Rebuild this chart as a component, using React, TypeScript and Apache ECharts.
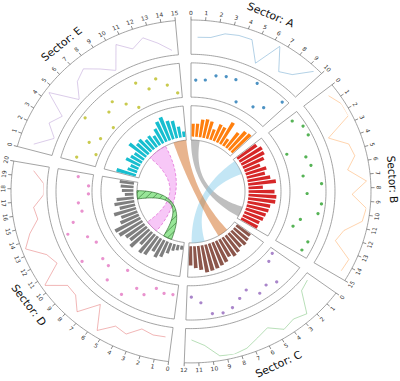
import React, { useEffect, useRef } from "react";
import * as echarts from "echarts";

// ---------- data ----------
const SECTORS = ["A", "B", "C", "D", "E"];
const SECTOR_SIZES = [10, 15, 12, 20, 15];
const SPACE_DEG = 5;

// values used by the line track and the scatter track (one per unit, x = i + 0.5)
const VALUES_A = [50, 53, 74, 80, 80, 6, 100, 20, 40, 98];
const VALUES_B = [79, 100, 100, 3, 62, 71, 37, 98, 47, 99, 92, 37, 20, 89, 84];
const VALUES_C = [5, 15, 88, 73, 85, 51, 69, 91, 100, 95, 51, 29];
const VALUES_D = [25, 27, 17, 54, 44, 90, 6, 78, 38, 36, 100, 21, 39, 99, 68, 29, 37, 0, 0, 39];
const VALUES_E = [60, 0, 40, 12, 99, 0, 50, 70, 34, 0, 83, 45, 72, 40, 6];

// bar track values (evenly spaced bars)
const BARS_A = [47, 48, 65, 69, 65, 40, 65, 61, 90, 30, 69, 88, 92];
const BARS_B = [83, 93, 90, 80, 58, 75, 65, 80, 97, 50, 90, 97, 95, 80, 78, 73, 70, 63, 65];
const BARS_C = [60, 65, 70, 65, 75, 80, 72, 85, 90, 95, 98, 100, 88, 80, 70];
const BARS_D = [15, 20, 25, 40, 60, 70, 55, 80, 85, 60, 90, 75, 80, 95, 100, 70, 60, 80, 55, 70, 60, 30, 40, 45, 50];
const BARS_E = [70, 35, 30, 55, 45, 40, 75, 55, 60, 45, 50, 40, 60, 80, 90, 70, 65, 40, 20];

const LINE_COLORS = ["#1f77b4", "#ff7f0e", "#2ca02c", "#d62728", "#9467bd"];
const SCATTER_COLORS = ["#1f77b4", "#2ca02c", "#9467bd", "#e377c2", "#bcbd22"];
const BAR_COLORS = ["#ff7f0e", "#d62728", "#8c564b", "#7f7f7f", "#17becf"];

// links: [sector1, start1, end1, sector2, start2, end2]
const LINK_GRAY = [0, 0, 2, 1, 12, 14.5];
const LINK_SKY = [1, 0.5, 4, 2, 8.4, 11.4];
const LINK_BROWN = [4, 12, 15, 2, 2.5, 5];
const LINK_VIOLET = [4, 5.5, 10, 3, 7, 10];
const LINK_GREEN = [3, 16, 18, 3, 3, 5];

// ---------- layout ----------
const CX = 191;
const CY = 201;
const R = 180;
const SQUASH = 381 / 400;

const ALL_VALUES = [VALUES_A, VALUES_B, VALUES_C, VALUES_D, VALUES_E];
const ALL_BARS = [BARS_A, BARS_B, BARS_C, BARS_D, BARS_E];
const TOTAL = SECTOR_SIZES.reduce((a, b) => a + b, 0);
const UNIT = (360 - SPACE_DEG * SECTOR_SIZES.length) / TOTAL;
const STARTS: number[] = [];
{
  let acc = 0;
  for (const s of SECTOR_SIZES) {
    STARTS.push(acc);
    acc += s * UNIT + SPACE_DEG;
  }
}
const ang = (si: number, x: number) => STARTS[si] + x * UNIT;

const textRot = (deg: number) => {
  const d = ((deg % 360) + 360) % 360;
  let r = -d;
  if (d >= 90 && d < 270) r += 180;
  return (r * Math.PI) / 180;
};

function hatchSegments(poly: number[][], spacing: number) {
  const n = [Math.SQRT1_2, Math.SQRT1_2];
  const d = [Math.SQRT1_2, -Math.SQRT1_2];
  const ss = poly.map((p) => p[0] * n[0] + p[1] * n[1]);
  const smin = Math.min(...ss);
  const smax = Math.max(...ss);
  const segs: number[][] = [];
  for (let s = Math.ceil(smin / spacing) * spacing; s <= smax; s += spacing) {
    const hits: { x: number; y: number; u: number }[] = [];
    for (let i = 0; i < poly.length; i++) {
      const j = (i + 1) % poly.length;
      const sp = ss[i];
      const sq = ss[j];
      if ((sp <= s && sq > s) || (sq <= s && sp > s)) {
        const t = (s - sp) / (sq - sp);
        const x = poly[i][0] + t * (poly[j][0] - poly[i][0]);
        const y = poly[i][1] + t * (poly[j][1] - poly[i][1]);
        hits.push({ x, y, u: x * d[0] + y * d[1] });
      }
    }
    hits.sort((a, b) => a.u - b.u);
    for (let k = 0; k + 1 < hits.length; k += 2) {
      segs.push([hits[k].x, hits[k].y, hits[k + 1].x, hits[k + 1].y]);
    }
  }
  return segs;
}

function buildOption() {
  const polars = [
    [0, R],
    [0.82 * R, 0.98 * R],
    [0.57 * R, 0.73 * R],
    [0.32 * R, 0.48 * R],
  ];
  const polar = polars.map((rr) => ({ center: [CX, CY], radius: rr }));
  const angleAxis = polars.map((_, i) => ({
    polarIndex: i,
    type: "value",
    min: 0,
    max: 360,
    startAngle: 90,
    clockwise: true,
    show: false,
  }));
  const radiusAxis = polars.map((_, i) => ({
    polarIndex: i,
    type: "value",
    min: 0,
    max: 100,
    show: false,
  }));

  const series: any[] = [];

  // track boxes
  const TRACKS = [
    [80, 100],
    [55, 75],
    [30, 50],
  ];
  const boxData: number[][] = [];
  SECTOR_SIZES.forEach((size, si) => {
    TRACKS.forEach((t) => boxData.push([t[1], ang(si, 0), t[0], ang(si, size)]));
  });
  series.push({
    type: "custom",
    coordinateSystem: "polar",
    polarIndex: 0,
    silent: true,
    z: 1,
    data: boxData,
    renderItem: (params: any, api: any) => {
      const r1 = api.value(0);
      const a0 = api.value(1);
      const r0 = api.value(2);
      const a1 = api.value(3);
      const N = 60;
      const pts: number[][] = [];
      for (let k = 0; k <= N; k++) pts.push(api.coord([r1, a0 + ((a1 - a0) * k) / N]).slice(0, 2));
      for (let k = N; k >= 0; k--) pts.push(api.coord([r0, a0 + ((a1 - a0) * k) / N]).slice(0, 2));
      return {
        type: "polygon",
        shape: { points: pts },
        style: { fill: "none", stroke: "#8a8a8a", lineWidth: 0.8 },
      };
    },
  });

  // ticks
  const tickData: number[][] = [];
  SECTOR_SIZES.forEach((size, si) => {
    for (let x = 0; x <= size; x++) tickData.push([100, ang(si, x), x]);
  });
  series.push({
    type: "custom",
    coordinateSystem: "polar",
    polarIndex: 0,
    silent: true,
    z: 3,
    data: tickData,
    renderItem: (params: any, api: any) => {
      const a = api.value(1);
      const lab = api.value(2);
      const p0 = api.coord([100, a]);
      const p1 = api.coord([102, a]);
      const pt = api.coord([104.3, a]);
      return {
        type: "group",
        children: [
          {
            type: "line",
            shape: { x1: p0[0], y1: p0[1], x2: p1[0], y2: p1[1] },
            style: { stroke: "#555", lineWidth: 0.7 },
          },
          {
            type: "text",
            x: pt[0],
            y: pt[1],
            rotation: textRot(a),
            style: {
              text: String(lab),
              fontSize: 6,
              fontFamily: "DejaVu Sans",
              fill: "#333",
              align: "center",
              verticalAlign: "middle",
            },
          },
        ],
      };
    },
  });

  // sector names
  const labelData = SECTOR_SIZES.map((size, si) => [112, ang(si, size / 2), si]);
  series.push({
    type: "custom",
    coordinateSystem: "polar",
    polarIndex: 0,
    silent: true,
    z: 3,
    data: labelData,
    renderItem: (params: any, api: any) => {
      const a = api.value(1);
      const si = api.value(2);
      const pt = api.coord([api.value(0), a]);
      return {
        type: "text",
        x: pt[0],
        y: pt[1],
        rotation: textRot(a),
        style: {
          text: `Sector: ${SECTORS[si]}`,
          fontSize: 11,
          fontFamily: "DejaVu Sans",
          fill: "#111",
          align: "center",
          verticalAlign: "middle",
        },
      };
    },
  });

  // lines
  ALL_VALUES.forEach((vals, si) => {
    series.push({
      type: "line",
      coordinateSystem: "polar",
      polarIndex: 1,
      silent: true,
      symbol: "none",
      z: 2,
      lineStyle: { color: LINE_COLORS[si], width: 1, opacity: 0.35 },
      data: vals.map((v, i) => [v, ang(si, i + 0.5)]),
    });
  });

  // scatter
  ALL_VALUES.forEach((vals, si) => {
    series.push({
      type: "scatter",
      coordinateSystem: "polar",
      polarIndex: 2,
      silent: true,
      symbolSize: 3.3,
      z: 2,
      itemStyle: { color: SCATTER_COLORS[si] },
      data: vals.map((v, i) => [v, ang(si, i + 0.5)]),
    });
  });

  // bars
  ALL_BARS.forEach((vals, si) => {
    const step = SECTOR_SIZES[si] / vals.length;
    const hw = 0.36 * step * UNIT;
    series.push({
      type: "custom",
      coordinateSystem: "polar",
      polarIndex: 3,
      silent: true,
      z: 2,
      data: vals.map((v, i) => [v, ang(si, (i + 0.5) * step), hw]),
      renderItem: (params: any, api: any) => {
        const v = api.value(0);
        const a = api.value(1);
        const h = api.value(2);
        const N = 4;
        const pts: number[][] = [];
        for (let k = 0; k <= N; k++) pts.push(api.coord([v, a - h + (2 * h * k) / N]).slice(0, 2));
        for (let k = N; k >= 0; k--) pts.push(api.coord([0, a - h + (2 * h * k) / N]).slice(0, 2));
        return { type: "polygon", shape: { points: pts }, style: { fill: BAR_COLORS[si] } };
      },
    });
  });

  // links
  const LINKS = [LINK_GRAY, LINK_SKY, LINK_BROWN, LINK_VIOLET, LINK_GREEN];
  const LINK_STYLES: any[] = [
    { fill: "rgba(128,128,128,0.5)" },
    { fill: "rgba(135,206,235,0.5)" },
    { fill: "rgba(210,105,30,0.5)" },
    { fill: "rgba(238,130,238,0.45)", stroke: "#e26fd6", lineWidth: 0.8, lineDash: [3, 2] },
    { fill: "rgba(50,205,50,0.5)", stroke: "#2f6b2f", lineWidth: 0.7 },
  ];
  const linkData = LINKS.map((l) => [30, ang(l[0], l[1]), ang(l[0], l[2]), ang(l[3], l[4]), ang(l[3], l[5])]);
  series.push({
    type: "custom",
    coordinateSystem: "polar",
    polarIndex: 0,
    silent: true,
    z: 2,
    data: linkData,
    renderItem: (params: any, api: any) => {
      const r = api.value(0);
      const a1 = api.value(1);
      const a2 = api.value(2);
      const b1 = api.value(3);
      const b2 = api.value(4);
      const C = api.coord([0, 0]).slice(0, 2);
      const arc = (s: number, e: number) => {
        const out: number[][] = [];
        const n = Math.max(4, Math.ceil(Math.abs(e - s)));
        for (let k = 0; k <= n; k++) out.push(api.coord([r, s + ((e - s) * k) / n]).slice(0, 2));
        return out;
      };
      const quad = (P: number[], Q: number[]) => {
        const out: number[][] = [];
        const n = 40;
        for (let k = 1; k < n; k++) {
          const t = k / n;
          const u = 1 - t;
          out.push([
            u * u * P[0] + 2 * u * t * C[0] + t * t * Q[0],
            u * u * P[1] + 2 * u * t * C[1] + t * t * Q[1],
          ]);
        }
        return out;
      };
      const A = arc(a1, a2);
      const B = arc(b1, b2);
      const pts = [...A, ...quad(A[A.length - 1], B[0]), ...B, ...quad(B[B.length - 1], A[0])];
      const st = LINK_STYLES[params.dataIndex];
      const children: any[] = [{ type: "polygon", shape: { points: pts }, style: st }];
      if (params.dataIndex === 4) {
        hatchSegments(pts, 5).forEach((sg) =>
          children.push({
            type: "line",
            shape: { x1: sg[0], y1: sg[1], x2: sg[2], y2: sg[3] },
            style: { stroke: "#2f6b2f", lineWidth: 0.6 },
          })
        );
      }
      return { type: "group", children };
    },
  });

  return {
    animation: false,
    backgroundColor: "#ffffff",
    polar,
    angleAxis,
    radiusAxis,
    series,
  };
}

export default function App() {
  const ref = useRef<HTMLDivElement>(null);
  useEffect(() => {
    const chart = echarts.init(ref.current!, null, { renderer: "svg" });
    chart.setOption(buildOption() as any);
    return () => chart.dispose();
  }, []);
  return (
    <div
      style={{
        position: "absolute",
        left: 0,
        top: 0,
        width: 400,
        height: 400,
        transform: `scale(1, ${SQUASH})`,
        transformOrigin: "0 0",
      }}
    >
      <div ref={ref} style={{ width: 400, height: 400 }} />
    </div>
  );
}
